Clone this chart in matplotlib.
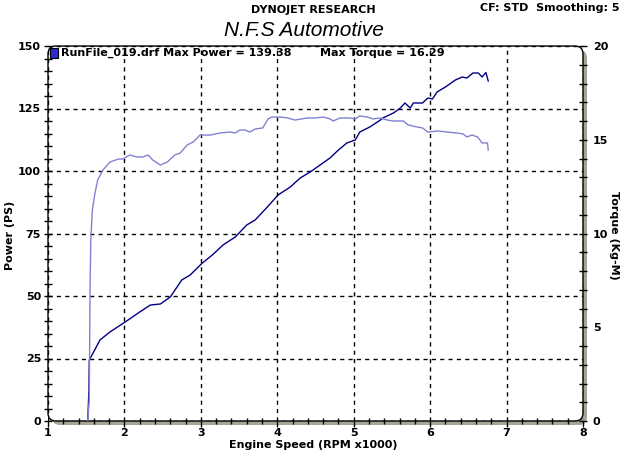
import numpy as np
import matplotlib
matplotlib.use("Agg")
import matplotlib.pyplot as plt
import matplotlib.ticker as mticker
from matplotlib.patches import FancyBboxPatch, Rectangle
from matplotlib.transforms import IdentityTransform

# ─────────────────────────────────────────────
# DATA
# ─────────────────────────────────────────────
power_rpm = [1.52, 1.535, 1.54, 1.59, 1.68, 1.81, 2.01, 2.20, 2.34, 2.47, 2.60, 2.75,
             2.86, 3.02, 3.15, 3.29, 3.45, 3.60, 3.71, 3.87, 4.01, 4.17, 4.30, 4.43,
             4.56, 4.69, 4.80, 4.91, 5.02, 5.08, 5.21, 5.35, 5.38, 5.52, 5.61, 5.67,
             5.74, 5.78, 5.90, 5.97, 6.03, 6.09, 6.20, 6.33, 6.42, 6.48, 6.56, 6.63,
             6.68, 6.73, 6.76]
power_ps = [0.0, 12.0, 24.4, 27.2, 32.4, 35.6, 39.6, 43.6, 46.4, 46.8, 49.6, 56.4,
            58.4, 63.2, 66.4, 70.4, 73.6, 78.4, 80.4, 85.6, 90.4, 93.6, 97.2, 99.6,
            102.4, 105.2, 108.4, 111.2, 112.4, 115.6, 117.6, 120.4, 121.2, 123.2, 125.2, 127.2,
            125.2, 127.2, 127.2, 129.2, 128.8, 131.6, 133.6, 136.4, 137.6, 137.2, 139.2, 139.2,
            137.6, 139.4, 136.0]

torque_rpm = [1.52, 1.54, 1.55, 1.56, 1.58, 1.615, 1.65, 1.72, 1.81, 1.92, 1.98, 2.07,
              2.16, 2.24, 2.31, 2.37, 2.47, 2.56, 2.66, 2.73, 2.82, 2.90, 2.99, 3.12,
              3.25, 3.38, 3.45, 3.51, 3.58, 3.64, 3.71, 3.81, 3.88, 3.93, 4.04, 4.14,
              4.23, 4.39, 4.49, 4.60, 4.69, 4.73, 4.82, 4.95, 5.02, 5.08, 5.18, 5.25,
              5.35, 5.44, 5.52, 5.65, 5.71, 5.83, 5.90, 5.97, 6.10, 6.22, 6.35, 6.43,
              6.48, 6.55, 6.62, 6.68, 6.75, 6.76]
torque_kgm = [0.0, 1.1, 7.0, 9.65, 11.25, 12.16, 12.85, 13.39, 13.81, 13.97, 13.97, 14.19,
              14.08, 14.08, 14.19, 13.92, 13.65, 13.81, 14.19, 14.29, 14.72, 14.88, 15.25, 15.25,
              15.36, 15.41, 15.36, 15.52, 15.52, 15.41, 15.57, 15.63, 16.11, 16.21, 16.21, 16.16,
              16.05, 16.16, 16.16, 16.21, 16.11, 16.00, 16.16, 16.16, 16.11, 16.27, 16.21, 16.11,
              16.16, 16.05, 16.00, 16.00, 15.79, 15.68, 15.63, 15.41, 15.47, 15.41, 15.36, 15.31,
              15.15, 15.25, 15.15, 14.83, 14.83, 14.45]

x_ticks = [1, 2, 3, 4, 5, 6, 7, 8]
power_ticks = [0, 25, 50, 75, 100, 125, 150]
torque_ticks = [0, 5, 10, 15, 20]

# ─────────────────────────────────────────────
# FIGURE
# ─────────────────────────────────────────────
W, H = 624, 453
fig = plt.figure(figsize=(W / 100, H / 100), dpi=100)
fig.patch.set_facecolor("white")

L, R, T, B = 48, 583, 46, 421          # plot box in image pixels
ax = fig.add_axes([L / W, 1 - B / H, (R - L) / W, (B - T) / H])
ax.set_facecolor("none")
ax2 = ax.twinx()
ax2.set_facecolor("none")

# rounded frame with grey drop shadow
shadow = FancyBboxPatch((L + 4, H - B - 4), R - L, B - T,
                        boxstyle="round,pad=0,rounding_size=8",
                        transform=IdentityTransform(), facecolor="#a8a597",
                        edgecolor="none", zorder=-3)
frame = FancyBboxPatch((L, H - B), R - L, B - T,
                       boxstyle="round,pad=0,rounding_size=8",
                       transform=IdentityTransform(), facecolor="white",
                       edgecolor="black", linewidth=1.0, zorder=-2)
fig.add_artist(shadow)
fig.add_artist(frame)

for a in (ax, ax2):
    for s in a.spines.values():
        s.set_visible(False)

bold = dict(fontweight="bold", fontsize=8, family="DejaVu Sans")

# power (left axis)
ax.plot(power_rpm, power_ps, color="#000080", linewidth=1.0, zorder=3)
ax.set_xlim(1, 8)
ax.set_ylim(0, 150)
ax.set_xticks(x_ticks)
ax.set_xticklabels([str(v) for v in x_ticks], **bold)
ax.xaxis.set_minor_locator(mticker.MultipleLocator(0.2))
ax.set_yticks(power_ticks)
ax.set_yticklabels([str(v) for v in power_ticks], **bold)
ax.yaxis.set_minor_locator(mticker.MultipleLocator(5))
ax.tick_params(axis="x", which="major", direction="out", length=4, width=1, pad=1)
ax.tick_params(axis="x", which="minor", direction="inout", length=4, width=1)
ax.tick_params(axis="y", which="major", direction="inout", length=6, width=1, pad=2)
ax.tick_params(axis="y", which="minor", direction="inout", length=6, width=1)
ax.grid(True, which="major", color="black", linestyle=(0, (3, 3)), linewidth=1.0)

# torque (right axis)
ax2.plot(torque_rpm, torque_kgm, color="#8282d2", linewidth=1.0, zorder=3)
ax2.set_ylim(0, 20)
ax2.set_yticks(torque_ticks)
ax2.set_yticklabels([str(v) for v in torque_ticks], **bold)
ax2.yaxis.set_minor_locator(mticker.MultipleLocator(1))
ax2.tick_params(axis="y", which="major", direction="inout", length=6, width=1, pad=4)
ax2.tick_params(axis="y", which="minor", direction="inout", length=6, width=1)

# header texts
def px(x, y):
    return x / W, 1 - y / H

fig.text(*px(313, 445), "Engine Speed (RPM x1000)", ha="center", va="center", **bold)
fig.text(*px(10, 235), "Power (PS)", ha="center", va="center", rotation=90, **bold)
fig.text(*px(614, 235), "Torque (Kg-M)", ha="center", va="center", rotation=-90, **bold)

fig.text(*px(313, 10), "DYNOJET RESEARCH", ha="center", va="center",
         fontweight="bold", fontsize=8, family="DejaVu Sans")
fig.text(*px(620, 8), "CF: STD  Smoothing: 5", ha="right", va="center",
         fontweight="bold", fontsize=8, family="DejaVu Sans")
fig.text(*px(304, 31), "N.F.S Automotive", ha="center", va="center",
         fontstyle="italic", fontsize=15, family="Liberation Sans")

# run file legend line inside the plot
icon = Rectangle((50, H - 58), 8, 10, transform=IdentityTransform(),
                 facecolor="#2a2ad0", edgecolor="black", linewidth=0.8, zorder=5)
fig.add_artist(icon)
fig.text(*px(61, 53), "RunFile_019.drf Max Power = 139.38", ha="left", va="center",
         **bold)
fig.text(*px(320, 53), "Max Torque = 16.29", ha="left", va="center", **bold)

plt.savefig("out.png", dpi=100)
